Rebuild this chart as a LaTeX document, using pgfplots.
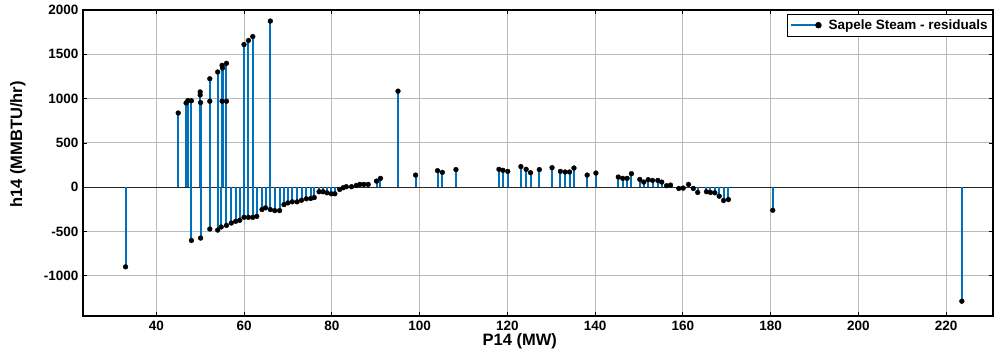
\documentclass[border=0pt]{standalone}
\usepackage{fontspec}
\setmainfont{Liberation Sans}
\usepackage{pgfplots}
\pgfplotsset{compat=1.18}
\definecolor{stemblue}{RGB}{0,114,189}
\definecolor{gridgray}{RGB}{185,185,185}
\begin{document}
\fontsize{13.5bp}{16bp}\selectfont
\begin{tikzpicture}
\useasboundingbox (-83bp,-40bp) rectangle (912bp,316bp);
\begin{axis}[
  at={(0,0)}, anchor=south west,
  scale only axis, width=910bp, height=306bp,
  xmin=23.3, xmax=230.7, ymin=-1455, ymax=2000,
  xtick={40,60,...,220}, ytick={-1000,-500,...,2000},
  grid=major, major grid style={gridgray, line width=0.8bp},
  extra y ticks={0}, extra y tick labels={},
  extra y tick style={grid=major, major grid style={black!85, line width=1.1bp}, major tick length=0pt},
  tick align=inside, major tick length=4bp,
  axis line style={black, line width=1.2bp},
  tick style={black, line width=0.6bp},
  ticklabel style={font=\fontsize{13.5bp}{16bp}\selectfont\bfseries},
  /pgf/number format/assume math mode=true,
  /pgf/number format/1000 sep={},
  xlabel={P14 (MW)}, ylabel={h14 (MMBTU/hr)},
  label style={font=\fontsize{16.5bp}{19bp}\selectfont\bfseries},
  xlabel style={at={(axis description cs:0.48,-0.098)}, anchor=base},
  ylabel style={at={(axis description cs:-0.067,0.56)}, anchor=base},
  legend style={at={(axis description cs:1,1)}, anchor=north east, yshift=-4bp,
    draw=black, line width=0.6bp, fill=white,
    font=\fontsize{13.5bp}{16bp}\selectfont\bfseries,
    inner xsep=3bp, inner ysep=3bp, column sep=5bp},
  legend cell align=left,
]
\addplot[ycomb, stemblue, line width=2bp, mark=*, mark size=2.4bp,
  mark options={draw=black, fill=black, line width=0.4bp},
  legend image code/.code={
    \draw[stemblue, line width=1.5bp] (0bp,0bp) -- (27bp,0bp);
    \fill[black] (27bp,0bp) circle (2.2bp);
  }] table {
x y
33.0 -900
45.0 837
46.8 950
47.2 977
48.0 975
48.0 -602
50.0 1075
50.0 1040
50.1 955
50.1 -575
52.2 1224
52.2 970
52.2 -473
54.0 1300
54.0 -485
54.8 -450
55.0 1375
55.1 1345
55.0 970
56.0 1398
56.0 970
56.0 -432
57.1 -405
58.1 -386
59.0 -375
60.0 1610
60.0 -341
61.0 1656
61.0 -341
62.0 1700
62.0 -341
62.9 -330
64.1 -253
64.9 -234
66.0 1875
66.0 -253
67.0 -265
68.1 -265
69.1 -197
70.0 -178
71.0 -166
72.1 -166
73.1 -148
74.2 -132
75.2 -128
76.0 -118
77.1 -52
78.0 -52
78.9 -64
79.9 -75
80.7 -75
81.8 -26
82.6 -7
83.3 5
84.5 5
85.6 19
86.4 31
87.3 31
88.3 31
90.2 68
91.1 99
95.1 1084
99.1 136
104.1 186
105.2 167
108.3 198
118.1 201
119.0 190
120.1 178
123.1 232
124.3 201
125.3 163
127.3 198
130.2 220
132.1 178
133.2 171
134.2 171
135.2 216
138.2 136
140.2 159
145.3 114
146.3 99
147.3 99
148.3 152
150.2 87
151.1 57
152.1 84
153.1 76
154.3 76
155.2 57
156.3 16
157.2 23
159.1 -15
160.1 -11
161.3 31
162.4 -15
163.4 -60
165.4 -52
166.3 -60
167.3 -64
168.3 -102
169.3 -151
170.4 -140
180.5 -261
223.6 -1288
};
\addlegendentry{Sapele Steam - residuals}
\end{axis}
\end{tikzpicture}
\end{document}
